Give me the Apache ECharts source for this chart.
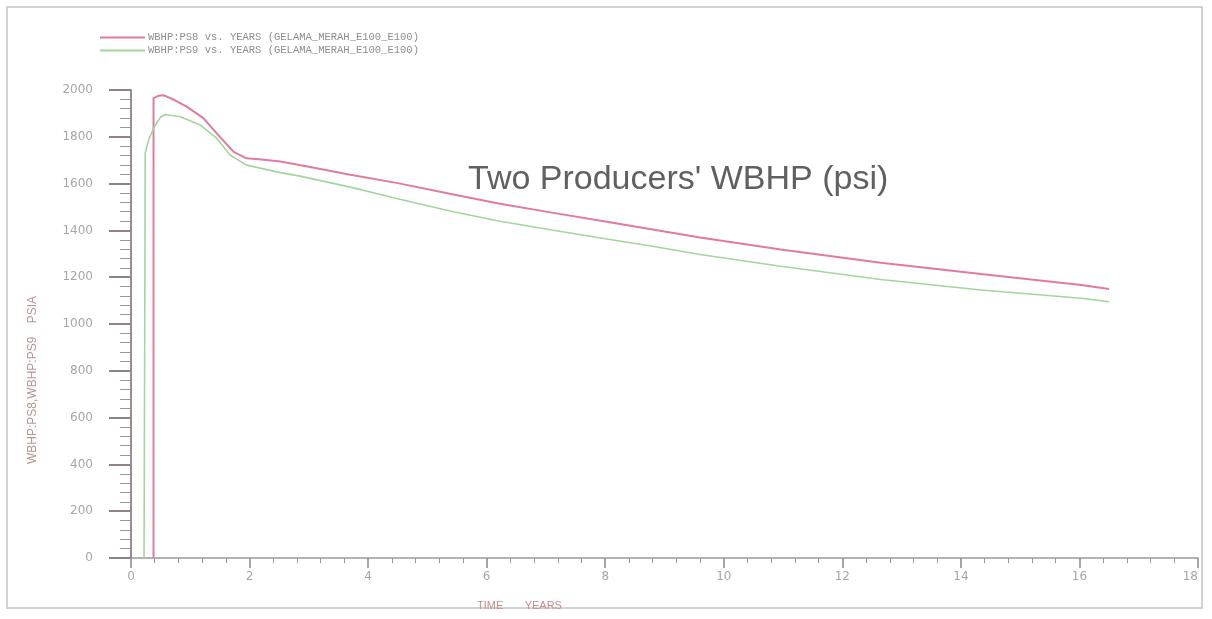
<!DOCTYPE html>
<html>
<head>
<meta charset="utf-8">
<script src="https://cdn.jsdelivr.net/npm/echarts@6/dist/echarts.min.js"></script>
<style>
  html, body { margin: 0; padding: 0; background: #ffffff; }
  #chart { width: 1212px; height: 619px; }
</style>
</head>
<body>
<div id="chart"></div>
<script>
// Well bottom-hole pressure of the two producers over time
const seriesNames = [
  'WBHP:PS8 vs. YEARS (GELAMA_MERAH_E100_E100)',
  'WBHP:PS9 vs. YEARS (GELAMA_MERAH_E100_E100)'
];

// [time in years, pressure in psia]
const wbhpPS8 = [
  [0.38, 0], [0.38, 1965], [0.46, 1975], [0.55, 1978], [0.75, 1955],
  [0.94, 1929], [1.22, 1880], [1.50, 1800], [1.73, 1736], [1.95, 1708],
  [2.20, 1703], [2.52, 1694], [3.00, 1672], [3.70, 1638], [4.50, 1602],
  [5.40, 1556], [6.20, 1515], [7.10, 1476], [8.00, 1438], [8.80, 1404],
  [9.60, 1370], [10.96, 1318], [12.65, 1262], [14.34, 1214], [16.03, 1167],
  [16.50, 1150]
];

const wbhpPS9 = [
  [0.22, 0], [0.24, 1730], [0.30, 1790], [0.40, 1845], [0.50, 1885],
  [0.58, 1895], [0.83, 1886], [1.17, 1850], [1.45, 1793], [1.67, 1722],
  [1.95, 1679], [2.50, 1648], [2.85, 1632], [3.70, 1585], [4.50, 1535],
  [5.40, 1482], [6.20, 1440], [7.10, 1402], [8.00, 1364], [8.80, 1332],
  [9.60, 1297], [10.96, 1247], [12.65, 1190], [14.34, 1145], [16.03, 1110],
  [16.50, 1095]
];

const xTicks = { min: 0, max: 18, interval: 2 };
const yTicks = { min: 0, max: 2000, interval: 200 };

const chartTitle = "Two Producers' WBHP (psi)";
const xAxisName = 'TIME       YEARS';
const yAxisName = 'WBHP:PS8,WBHP:PS9    PSIA';

const pinkColor = '#e07c9b';
const greenColor = '#a2d69c';

const chart = echarts.init(document.getElementById('chart'), null, { renderer: 'canvas' });

chart.setOption({
  backgroundColor: '#ffffff',
  animation: false,
  grid: {
    left: 131, right: 14, top: 90, bottom: 61,
    containLabel: false,
    outerBoundsMode: 'none'
  },
  legend: {
    orient: 'vertical',
    left: 95,
    top: 27,
    itemWidth: 45,
    itemHeight: 2,
    itemGap: 2,
    icon: 'rect',
    selectedMode: false,
    textStyle: {
      fontFamily: 'Liberation Mono',
      fontSize: 10.5,
      color: '#8e8e8e',
      padding: [0, 0, 0, -2]
    },
    data: seriesNames
  },
  xAxis: {
    type: 'value',
    min: xTicks.min,
    max: xTicks.max,
    interval: xTicks.interval,
    axisLine: { show: true, onZero: false, lineStyle: { color: '#9a9a9a', width: 1.5 } },
    axisTick: { show: true, length: 10, lineStyle: { color: '#8a8a8a', width: 1.5 } },
    minorTick: { show: true, splitNumber: 5, length: 5, lineStyle: { color: '#9a9a9a', width: 1 } },
    splitLine: { show: false },
    axisLabel: {
      margin: 13,
      fontFamily: 'DejaVu Sans',
      fontSize: 12,
      color: '#a6a6a6',
      alignMaxLabel: 'right'
    }
  },
  yAxis: {
    type: 'value',
    min: yTicks.min,
    max: yTicks.max,
    interval: yTicks.interval,
    axisLine: { show: true, lineStyle: { color: '#9a8d90', width: 2 } },
    axisTick: { show: true, length: 22, lineStyle: { color: '#8f8286', width: 2 } },
    minorTick: { show: true, splitNumber: 5, length: 11, lineStyle: { color: '#a09597', width: 1 } },
    splitLine: { show: false },
    axisLabel: {
      margin: 38,
      fontFamily: 'DejaVu Sans',
      fontSize: 12,
      color: '#a6a6a6',
      formatter: function (v) { return String(v); }
    }
  },
  series: [
    {
      name: seriesNames[0],
      type: 'line',
      data: wbhpPS8,
      showSymbol: false,
      smooth: false,
      color: pinkColor,
      lineStyle: { color: pinkColor, width: 2 }
    },
    {
      name: seriesNames[1],
      type: 'line',
      data: wbhpPS9,
      showSymbol: false,
      smooth: false,
      color: greenColor,
      lineStyle: { color: greenColor, width: 1.6 }
    }
  ],
  graphic: [
    {
      type: 'rect',
      silent: true,
      shape: { x: 7, y: 7, width: 1195, height: 601 },
      style: { fill: 'none', stroke: '#c4c4c4', lineWidth: 1.5 }
    },
    {
      type: 'text',
      left: 468,
      top: 163,
      style: {
        text: chartTitle,
        fontFamily: 'Liberation Sans',
        fontSize: 34,
        fill: '#606060'
      }
    },
    {
      type: 'text',
      x: 477,
      y: 606,
      style: {
        text: xAxisName,
        fontFamily: 'Liberation Sans',
        fontSize: 11,
        fill: '#c98b8b',
        verticalAlign: 'middle'
      }
    },
    {
      type: 'text',
      x: 33,
      y: 380,
      rotation: Math.PI / 2,
      style: {
        text: yAxisName,
        fontFamily: 'Liberation Sans',
        fontSize: 12,
        fill: '#b99496',
        align: 'center',
        verticalAlign: 'middle'
      }
    }
  ]
});
</script>
</body>
</html>
